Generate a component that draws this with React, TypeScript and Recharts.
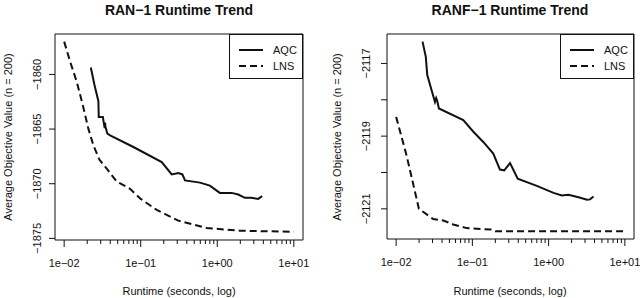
import { LineChart, Line, XAxis, YAxis, ReferenceArea, Legend } from 'recharts'

// RAN-1 panel
const ranAqcTime = [0.0223, 0.0248, 0.028, 0.0283, 0.032, 0.0338, 0.0342, 0.0346, 0.0367, 0.0398, 0.0802, 0.188, 0.254, 0.31, 0.35, 0.379, 0.594, 0.8, 1.08, 1.54, 1.88, 2.29, 2.77, 3.42, 3.86]
const ranAqcValue = [-1859.36, -1860.92, -1862.45, -1863.89, -1863.89, -1864.9, -1864.4, -1864.8, -1865.42, -1865.57, -1866.64, -1868.02, -1869.15, -1869.03, -1869.15, -1869.7, -1869.9, -1870.17, -1870.84, -1870.84, -1870.99, -1871.29, -1871.29, -1871.39, -1871.14]
const ranLnsTime = [0.01, 0.01197, 0.0146, 0.01753, 0.0207, 0.0241, 0.0289, 0.036, 0.0486, 0.0726, 0.1, 0.162, 0.31, 0.726, 1.98, 10]
const ranLnsValue = [-1857.0, -1858.83, -1860.67, -1862.82, -1864.96, -1866.49, -1867.8, -1868.63, -1869.8, -1870.47, -1871.39, -1872.4, -1873.38, -1874.05, -1874.3, -1874.4]
const ranYTicks = [-1875, -1870, -1865, -1860]

// RANF-1 panel
const ranfAqcTime = [0.0222, 0.0245, 0.0256, 0.0292, 0.0323, 0.0335, 0.0345, 0.0364, 0.076, 0.103, 0.139, 0.188, 0.23, 0.262, 0.312, 0.393, 0.7, 1.16, 1.49, 1.82, 2.47, 3.18, 3.5, 3.88]
const ranfAqcValue = [-2116.4, -2116.82, -2117.32, -2117.74, -2118.06, -2117.95, -2118.02, -2118.24, -2118.56, -2118.88, -2119.16, -2119.48, -2119.92, -2119.94, -2119.74, -2120.17, -2120.37, -2120.56, -2120.63, -2120.61, -2120.68, -2120.75, -2120.74, -2120.66]
const ranfLnsTime = [0.01, 0.0137, 0.0199, 0.0306, 0.0415, 0.056, 0.084, 0.18, 0.2, 10]
const ranfLnsValue = [-2118.47, -2119.53, -2121.0, -2121.28, -2121.32, -2121.43, -2121.53, -2121.57, -2121.62, -2121.62]
const ranfYTicks = [-2121, -2120, -2119, -2118, -2117]
const ranfYLabelled = [-2121, -2119, -2117]

const xMajorTicks = [0.01, 0.1, 1, 10]
const xMajorLabels = ['1e\u221202', '1e\u221201', '1e+00', '1e+01']
const xMinorTicks = [
  0.02, 0.03, 0.04, 0.05, 0.06, 0.07, 0.08, 0.09,
  0.2, 0.3, 0.4, 0.5, 0.6, 0.7, 0.8, 0.9,
  2, 3, 4, 5, 6, 7, 8, 9,
]

const FONT = '"Liberation Sans", Arial, Helvetica, sans-serif'
const INK = '#111'

const zip = (t: number[], v: number[]) => t.map((x, i) => ({ t: x, v: v[i] }))

const minus = (s: string) => s.replace('-', '\u2212')

function XTick({ x, y, payload }: any) {
  const idx = xMajorTicks.indexOf(payload.value)
  const major = idx >= 0
  return (
    <g>
      <line x1={x} x2={x} y1={y} y2={y + (major ? 7 : 4)} stroke={INK} strokeWidth={1} />
      {major && (
        <text x={x} y={y + 23} textAnchor="middle" dominantBaseline="central" fontSize={11} fontFamily={FONT} fill={INK}>
          {xMajorLabels[idx]}
        </text>
      )}
    </g>
  )
}

function makeYTick(labelled: number[], offset: number) {
  return function YTick({ x, y, payload }: any) {
    const show = labelled.includes(payload.value)
    return (
      <g>
        <line x1={x - 6} x2={x} y1={y} y2={y} stroke={INK} strokeWidth={1} />
        {show && (
          <text
            transform={`translate(${x - offset},${y}) rotate(-90)`}
            textAnchor="middle"
            dominantBaseline="central"
            fontSize={11}
            fontFamily={FONT}
            fill={INK}
          >
            {minus(String(payload.value))}
          </text>
        )}
      </g>
    )
  }
}

function LegendBox({ payload }: any) {
  return (
    <svg width={72} height={43} style={{ display: 'block' }}>
      {(payload || []).map((entry: any, i: number) => (
        <g key={entry.value}>
          <line
            x1={9}
            x2={33}
            y1={15 + i * 16}
            y2={15 + i * 16}
            stroke={INK}
            strokeWidth={2}
            strokeDasharray={entry.value === 'LNS' ? '7 4' : undefined}
          />
          <text x={43} y={15 + i * 16} dominantBaseline="central" fontSize={11} fontFamily={FONT} fill={INK}>
            {entry.value}
          </text>
        </g>
      ))}
    </svg>
  )
}

interface PanelProps {
  aqc: { t: number; v: number }[]
  lns: { t: number; v: number }[]
  yDomain: [number, number]
  yTicks: number[]
  yLabelled: number[]
  yAxisWidth: number
  rightMargin: number
  labelOffset: number
  bottom: number
}

const xDomain: [number, number] = [0.00759, 13.18]

function Panel(p: PanelProps) {
  const YTick = makeYTick(p.yLabelled, p.labelOffset)
  const plotRight = 320 - p.rightMargin
  return (
    <LineChart width={320} height={298} margin={{ top: 34, right: p.rightMargin, bottom: 0, left: 0 }}>
      <XAxis
        dataKey="t"
        type="number"
        scale="log"
        domain={xDomain}
        allowDataOverflow
        ticks={[...xMajorTicks, ...xMinorTicks]}
        interval={0}
        tick={<XTick />}
        tickLine={false}
        axisLine={false}
        tickSize={0}
        tickMargin={0}
        height={p.bottom}
      />
      <YAxis
        type="number"
        domain={p.yDomain}
        allowDataOverflow
        ticks={p.yTicks}
        interval={0}
        tick={<YTick />}
        tickLine={false}
        axisLine={false}
        tickSize={0}
        tickMargin={0}
        width={p.yAxisWidth}
      />
      <ReferenceArea
        x1={xDomain[0]}
        x2={xDomain[1]}
        y1={p.yDomain[0]}
        y2={p.yDomain[1]}
        fill="none"
        stroke={INK}
        strokeWidth={1}
        ifOverflow="visible"
      />
      <Legend
        layout="vertical"
        align="center"
        verticalAlign="middle"
        content={<LegendBox />}
        wrapperStyle={{
          position: 'absolute',
          left: plotRight - 74,
          top: 34,
          width: 72,
          height: 43,
          border: `1px solid ${INK}`,
          background: '#fff',
        }}
      />
      <Line data={p.aqc} dataKey="v" name="AQC" stroke={INK} strokeWidth={2} dot={false} isAnimationActive={false} />
      <Line
        data={p.lns}
        dataKey="v"
        name="LNS"
        stroke={INK}
        strokeWidth={2}
        strokeDasharray="7 4"
        dot={false}
        isAnimationActive={false}
      />
    </LineChart>
  )
}

const textStyle = { fontFamily: FONT, fill: INK }

export default function App() {
  return (
    <div style={{ position: 'absolute', left: 0, top: 0, width: 640, height: 298, background: '#fff' }}>
      <div style={{ display: 'flex' }}>
        <Panel
          aqc={zip(ranAqcTime, ranAqcValue)}
          lns={zip(ranLnsTime, ranLnsValue)}
          yDomain={[-1875.15, -1856.3]}
          yTicks={ranYTicks}
          yLabelled={ranYTicks}
          yAxisWidth={55}
          rightMargin={17}
          labelOffset={18}
          bottom={58}
        />
        <Panel
          aqc={zip(ranfAqcTime, ranfAqcValue)}
          lns={zip(ranfLnsTime, ranfLnsValue)}
          yDomain={[-2121.83, -2116.19]}
          yTicks={ranfYTicks}
          yLabelled={ranfYLabelled}
          yAxisWidth={67}
          rightMargin={6}
          labelOffset={21}
          bottom={59}
        />
      </div>
      <svg width={640} height={298} style={{ position: 'absolute', left: 0, top: 0, pointerEvents: 'none' }}>
        <text x={179} y={10} textAnchor="middle" dominantBaseline="central" fontSize={14} fontWeight="bold" {...textStyle}>
          RAN{'\u2212'}1 Runtime Trend
        </text>
        <text x={510} y={10} textAnchor="middle" dominantBaseline="central" fontSize={14} fontWeight="bold" {...textStyle}>
          RANF{'\u2212'}1 Runtime Trend
        </text>
        <text x={179} y={291} textAnchor="middle" dominantBaseline="central" fontSize={11} {...textStyle}>
          Runtime (seconds, log)
        </text>
        <text x={510} y={291} textAnchor="middle" dominantBaseline="central" fontSize={11} {...textStyle}>
          Runtime (seconds, log)
        </text>
        <text transform="translate(8,137) rotate(-90)" textAnchor="middle" dominantBaseline="central" fontSize={11} {...textStyle}>
          Average Objective Value (n = 200)
        </text>
        <text transform="translate(337,137) rotate(-90)" textAnchor="middle" dominantBaseline="central" fontSize={11} {...textStyle}>
          Average Objective Value (n = 200)
        </text>
      </svg>
    </div>
  )
}
